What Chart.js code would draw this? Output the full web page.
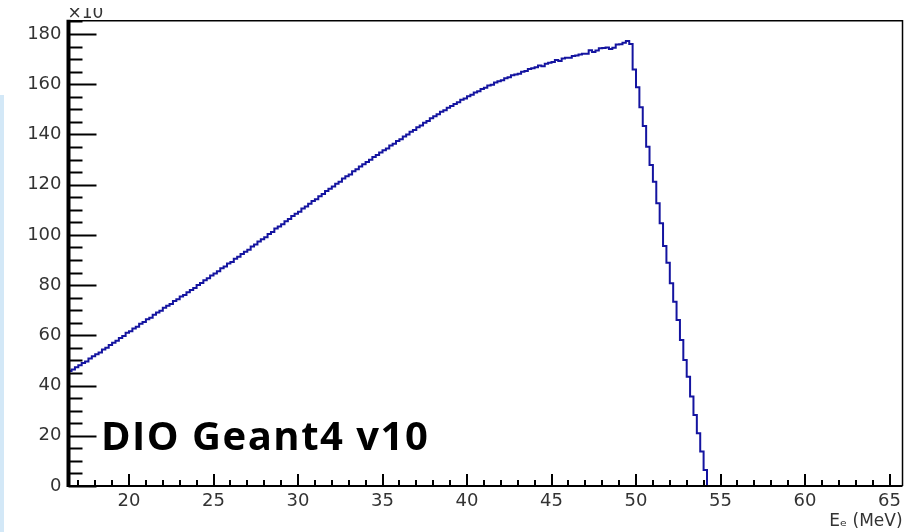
<!DOCTYPE html>
<html>
<head>
<meta charset="UTF-8" />
<title>DIO Geant4 v10</title>
<style>
  html, body { margin: 0; padding: 0; background: #fff; }
  #wrap { position: relative; width: 906px; height: 532px; }
  #strip { position: absolute; left: 0; top: 95px; width: 4px; height: 437px; background: #d3e8f7; }
  canvas { display: block; }
</style>
</head>
<body>
<div id="wrap">
  <canvas id="dio" width="906" height="532"></canvas>
  <div id="strip"></div>
</div>
<script src="https://cdn.jsdelivr.net/npm/chart.js"></script>
<script>
// histogram: 0.2 MeV bins starting at 16.4 MeV, counts in units of 10
const binStart = 16.4;
const binWidth = 0.2;
const counts = [
  45, 45.8, 46.4, 47.3, 48.1, 49, 49.6, 50.8, 51.7, 52.5,
  53.2, 54.4, 55.1, 56.2, 57, 57.8, 58.9, 59.7, 61, 61.6,
  62.7, 63.4, 64.6, 65.3, 66.4, 67, 68.2, 69.1, 69.8, 71,
  71.8, 72.5, 73.7, 74.4, 75.5, 76.1, 77.2, 78.1, 78.9, 80,
  80.8, 81.9, 82.7, 83.8, 84.6, 85.5, 86.7, 87.4, 88.6, 89.2,
  90.5, 91.3, 92.4, 93.3, 94.1, 95.4, 96.2, 97.4, 98.3, 99.1,
  100.4, 101.2, 102.5, 103.3, 104.2, 105.4, 106.3, 107.5, 108.4, 109.2,
  110.5, 111.3, 112.4, 113.5, 114.2, 115.4, 116.3, 117.5, 118.4, 119.3,
  120.4, 121.2, 122.5, 123.4, 124.1, 125.3, 126.1, 127.2, 128.1, 129,
  129.9, 131, 131.8, 132.8, 133.7, 134.4, 135.6, 136.3, 137.4, 138.1,
  139.2, 140, 141.1, 141.8, 142.9, 143.6, 144.7, 145.4, 146.5, 147.2,
  148, 149, 149.6, 150.6, 151.3, 152.1, 152.8, 153.8, 154.3, 155.2,
  155.8, 156.7, 157.2, 158.1, 158.6, 159.5, 159.8, 160.7, 161.2, 161.6,
  162.4, 162.8, 163.6, 163.9, 164.2, 165, 165.3, 166.1, 166.4, 166.8,
  167.5, 167.2, 168.2, 168.6, 168.9, 169.6, 169.3, 170.2, 170.5, 170.5,
  171.2, 171.4, 171.8, 172.1, 172.1, 173.5, 172.8, 173.4, 174.3, 174.4,
  174.6, 174, 174.5, 175.8, 175.9, 176.5, 177.2, 176,
  165.9, 158.8, 150.8, 143.4, 135.1, 127.8, 121.2, 112.6, 104.6, 95.6,
  88.9, 80.7, 73.4, 66.1, 58.1, 50.2, 43.5, 35.6, 28.3, 21, 13.7, 6.4
];
const xRange = [16.42, 65.77];
const yRange = [0, 185.3];
const xStep = 5, xMinorStep = 1;
const yStep = 20, yMinorStep = 5;
const label = 'DIO Geant4 v10';
const axisTitle = 'Eₑ (MeV)';
const scaleNote = '×10';

const points = counts.map((c, i) => ({ x: binStart + i * binWidth, y: c }));
points.push({ x: binStart + counts.length * binWidth, y: 0 });

const tickFont = { family: 'DejaVu Sans', size: 18 };

// ROOT style frame: inward ticks, thick left axis, text overlays
const rootFrame = {
  id: 'rootFrame',
  afterDraw(chart) {
    const { ctx, chartArea: a, scales: { x, y } } = chart;
    ctx.save();
    ctx.strokeStyle = '#000';
    ctx.lineWidth = 2;
    for (let v = yRange[0]; v <= yRange[1]; v += yMinorStep) {
      const py = Math.round(y.getPixelForValue(v)) + 0.5;
      const len = v % yStep === 0 ? 28 : 14;
      ctx.beginPath(); ctx.moveTo(a.left, py); ctx.lineTo(a.left + len, py); ctx.stroke();
    }
    for (let v = Math.ceil(xRange[0]); v <= xRange[1]; v += xMinorStep) {
      const px = Math.round(x.getPixelForValue(v));
      const len = v % xStep === 0 ? 12 : 6;
      ctx.beginPath(); ctx.moveTo(px, a.bottom); ctx.lineTo(px, a.bottom - len); ctx.stroke();
    }
    // frame
    ctx.lineWidth = 1.5;
    ctx.beginPath();
    ctx.moveTo(a.left, a.top); ctx.lineTo(a.right, a.top); ctx.lineTo(a.right, a.bottom);
    ctx.stroke();
    ctx.lineWidth = 2;
    ctx.beginPath(); ctx.moveTo(a.left, a.bottom); ctx.lineTo(a.right, a.bottom); ctx.stroke();
    ctx.lineWidth = 4;
    ctx.beginPath(); ctx.moveTo(a.left, a.top - 1); ctx.lineTo(a.left, a.bottom + 1); ctx.stroke();

    // x10 exponent, top cut off like the source
    ctx.save();
    ctx.beginPath(); ctx.rect(0, 8, 300, 20); ctx.clip();
    ctx.fillStyle = '#333';
    ctx.font = '17px "DejaVu Sans"';
    ctx.textAlign = 'left';
    ctx.textBaseline = 'alphabetic';
    ctx.fillText(scaleNote, a.left - 1, 18);
    ctx.restore();

    // label
    ctx.fillStyle = '#000';
    ctx.font = 'bold 40px "Open Sans"';
    ctx.letterSpacing = '1.5px';
    ctx.textBaseline = 'alphabetic';
    ctx.fillText(label, 101, 450);
    ctx.restore();
  }
};

new Chart(document.getElementById('dio'), {
  type: 'line',
  data: {
    datasets: [{
      data: points,
      stepped: 'after',
      borderColor: '#1414a0',
      borderWidth: 2,
      pointRadius: 0,
      fill: false
    }]
  },
  options: {
    responsive: false,
    animation: false,
    layout: { padding: { top: 20.7, right: 3, left: 0, bottom: 0 } },
    plugins: { legend: { display: false }, tooltip: { enabled: false } },
    scales: {
      x: {
        type: 'linear',
        min: xRange[0],
        max: xRange[1],
        grid: { display: false, drawTicks: false },
        border: { display: false },
        ticks: { stepSize: xStep, includeBounds: false, padding: 5, font: tickFont, color: '#333', maxRotation: 0, autoSkip: false },
        title: { display: true, text: axisTitle, align: 'end', color: '#333', font: { family: 'DejaVu Sans', size: 17 }, padding: 0 },
        afterFit(s) { s.height = 46; }
      },
      y: {
        min: yRange[0],
        max: yRange[1],
        grid: { display: false, drawTicks: false },
        border: { display: false },
        ticks: { stepSize: yStep, includeBounds: false, padding: 7, font: tickFont, color: '#333' },
        afterFit(s) { s.width = 68.5; }
      }
    }
  },
  plugins: [rootFrame]
});
</script>
</body>
</html>
